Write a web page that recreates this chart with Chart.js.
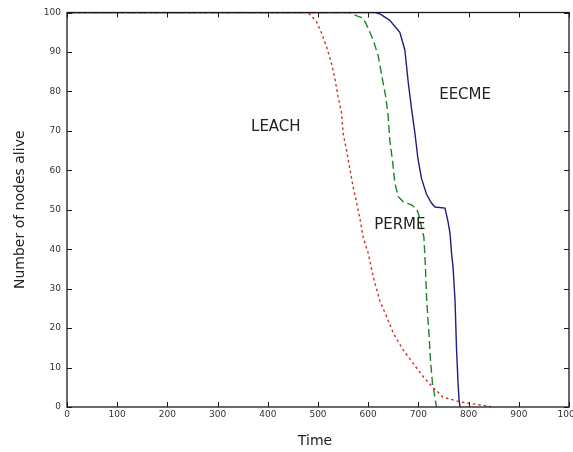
<!DOCTYPE html>
<html>
<head>
<meta charset="utf-8">
<script src="https://cdn.jsdelivr.net/npm/chart.js@4.4.0/dist/chart.umd.min.js"></script>
<style>
  html, body { margin: 0; padding: 0; background: #fff; }
  #wrap { width: 573px; height: 452px; }
</style>
</head>
<body>
<div id="wrap"><canvas id="nodesChart" width="573" height="452"></canvas></div>
<script>
// values
const xTicks = [0, 100, 200, 300, 400, 500, 600, 700, 800, 900, 1000];
const yTicks = [0, 10, 20, 30, 40, 50, 60, 70, 80, 90, 100];

const leachTime  = [0, 480, 497, 507, 517, 527, 534, 540, 547, 550, 557, 564, 570, 577, 584, 590, 600, 610, 623, 637, 650, 670, 690, 710, 729, 749, 769, 783, 809, 836, 845];
const leachAlive = [100, 100, 97.7, 94.8, 91.3, 87, 83, 78.6, 74.5, 69.4, 65, 60, 55.8, 51.7, 47.4, 43, 39, 33, 27, 22.8, 18.7, 14.4, 11, 7.6, 5, 2.5, 1.8, 1.3, 0.8, 0.3, 0];

const permeTime  = [0, 562, 580, 590, 600, 610, 620, 627, 635, 640, 643, 649, 653, 660, 670, 687, 697, 700, 711, 714, 716.5, 721, 724, 728, 731, 736];
const permeAlive = [100, 100, 99, 98.6, 96, 93, 89, 84, 78.6, 73.5, 67.7, 61.8, 56.8, 53.3, 52, 51.2, 50, 49, 43, 35.5, 27, 18.7, 12, 6, 4, 0];

const eecmeTime  = [0, 615, 625, 643, 663, 673, 680, 687, 693, 699, 706, 716, 726, 733, 753, 759, 763, 766, 769, 773, 776, 779, 781, 783];
const eecmeAlive = [100, 100, 99.5, 98, 95, 90.5, 82, 75, 69.5, 63, 58, 54, 51.7, 50.7, 50.4, 47, 44, 39, 35.5, 27, 14.5, 6, 1.8, 0];

const curveLabels = [
  { text: 'LEACH', x: 416, y: 71 },
  { text: 'EECME', x: 793, y: 79 },
  { text: 'PERME', x: 663, y: 46 }
];

function pts(xs, ys) {
  return xs.map((x, i) => ({ x: x, y: ys[i] }));
}

// matlab-like frame, inward ticks, tick labels and texts
const matlabFrame = {
  id: 'matlabFrame',
  afterDatasetsDraw(chart) {
    const c = chart.ctx;
    const a = chart.chartArea;
    const xs = chart.scales.x, ys = chart.scales.y;
    c.save();
    c.strokeStyle = '#1a1a1a';
    c.lineWidth = 1.3;
    c.strokeRect(a.left, a.top, a.right - a.left, a.bottom - a.top);

    c.lineWidth = 1;
    c.beginPath();
    xTicks.forEach(t => {
      const px = Math.round(xs.getPixelForValue(t)) + 0.5;
      c.moveTo(px, a.bottom); c.lineTo(px, a.bottom - 5);
      c.moveTo(px, a.top); c.lineTo(px, a.top + 5);
    });
    yTicks.forEach(t => {
      const py = Math.round(ys.getPixelForValue(t)) + 0.5;
      c.moveTo(a.left, py); c.lineTo(a.left + 5, py);
      c.moveTo(a.right, py); c.lineTo(a.right - 5, py);
    });
    c.stroke();

    c.fillStyle = '#333';
    c.font = '9px "DejaVu Sans"';
    c.textAlign = 'center';
    c.textBaseline = 'middle';
    xTicks.forEach(t => c.fillText(String(t), xs.getPixelForValue(t), a.bottom + 8));
    c.textAlign = 'right';
    yTicks.forEach(t => c.fillText(String(t), a.left - 6, ys.getPixelForValue(t)));

    c.fillStyle = '#222';
    c.font = '15px "DejaVu Sans"';
    c.textAlign = 'center';
    curveLabels.forEach(l => c.fillText(l.text, xs.getPixelForValue(l.x), ys.getPixelForValue(l.y)));

    c.font = '14px "DejaVu Sans"';
    c.fillText('Time', (a.left + a.right) / 2 - 3, 441);
    c.translate(20, (a.top + a.bottom) / 2);
    c.rotate(-Math.PI / 2);
    c.fillText('Number of nodes alive', 0, 0);
    c.restore();
  }
};

const ctx = document.getElementById('nodesChart').getContext('2d');
new Chart(ctx, {
  type: 'line',
  data: {
    datasets: [
      {
        label: 'LEACH',
        data: pts(leachTime, leachAlive),
        borderColor: 'rgb(205, 45, 35)',
        borderWidth: 1.4,
        borderDash: [2.5, 3],
        pointRadius: 0
      },
      {
        label: 'PERME',
        data: pts(permeTime, permeAlive),
        borderColor: 'rgb(30, 130, 40)',
        borderWidth: 1.4,
        borderDash: [8, 4],
        pointRadius: 0
      },
      {
        label: 'EECME',
        data: pts(eecmeTime, eecmeAlive),
        borderColor: 'rgb(30, 30, 125)',
        borderWidth: 1.4,
        pointRadius: 0
      }
    ]
  },
  options: {
    responsive: false,
    animation: false,
    events: [],
    layout: { padding: { top: 12.5, right: 4, left: 0, bottom: 0 } },
    plugins: {
      legend: { display: false },
      tooltip: { enabled: false }
    },
    elements: { line: { tension: 0 } },
    scales: {
      x: {
        type: 'linear',
        min: 0, max: 1000,
        ticks: { display: false },
        grid: { display: false },
        border: { display: false },
        afterFit: s => { s.height = 45; }
      },
      y: {
        min: 0, max: 100,
        ticks: { display: false },
        grid: { display: false },
        border: { display: false },
        afterFit: s => { s.width = 67; }
      }
    }
  },
  plugins: [matlabFrame]
});
</script>
</body>
</html>
